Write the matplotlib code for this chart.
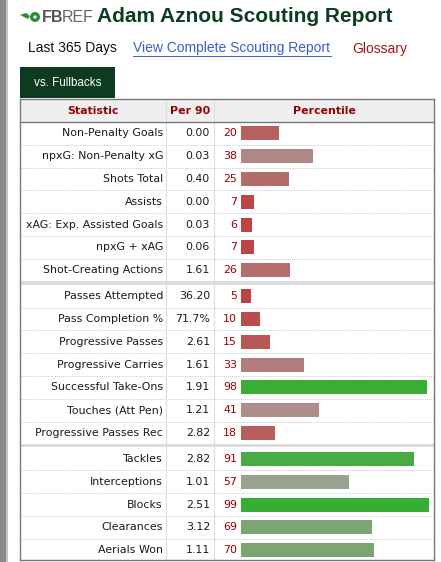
import matplotlib
matplotlib.use("Agg")
import matplotlib.pyplot as plt
from matplotlib.patches import Rectangle, Polygon, Circle
import numpy as np

# ---- data ----
stats_attack = ["Non-Penalty Goals", "npxG: Non-Penalty xG", "Shots Total", "Assists",
                "xAG: Exp. Assisted Goals", "npxG + xAG", "Shot-Creating Actions"]
per90_attack = ["0.00", "0.03", "0.40", "0.00", "0.03", "0.06", "1.61"]
pct_attack = [20, 38, 25, 7, 6, 7, 26]

stats_possession = ["Passes Attempted", "Pass Completion %", "Progressive Passes",
                    "Progressive Carries", "Successful Take-Ons", "Touches (Att Pen)",
                    "Progressive Passes Rec"]
per90_possession = ["36.20", "71.7%", "2.61", "1.61", "1.91", "1.21", "2.82"]
pct_possession = [5, 10, 15, 33, 98, 41, 18]

stats_defense = ["Tackles", "Interceptions", "Blocks", "Clearances", "Aerials Won"]
per90_defense = ["2.82", "1.01", "2.51", "3.12", "1.11"]
pct_defense = [91, 57, 99, 69, 70]

title = "Adam Aznou Scouting Report"
headers = ["Statistic", "Per 90", "Percentile"]

W, H = 441, 562
fig = plt.figure(figsize=(W / 100, H / 100), dpi=100)
fig.patch.set_facecolor("white")
ax = fig.add_axes([0, 0, 1, 1])
ax.set_xlim(0, W)
ax.set_ylim(H, 0)
ax.axis("off")

BODY = "DejaVu Sans"
ARIAL = "Liberation Sans"
DARKRED = "#990000"
TXT = "#1a1a1a"
BORDER = "#7a7a7a"
FS = 7.95


def bar_color(p):
    red = np.array([190, 55, 55])
    gray = np.array([170, 160, 158])
    green = np.array([52, 174, 48])
    if p <= 50:
        t = p / 50.0
        c = red * (1 - t) + gray * t
    else:
        t = (p - 50) / 50.0
        c = gray * (1 - t) + green * t
    return tuple(c / 255.0)


# left gray strip
ax.add_patch(Rectangle((0, 0), 6, H, color="#8a8a8a", lw=0))
ax.add_patch(Rectangle((6, 0), 2, H, color="#c4c4c4", lw=0))

# logo
ax.add_patch(Polygon([[20, 15], [26, 13], [30, 16], [28, 19]], closed=True,
                     color="#2e8b3a", lw=0))
ax.add_patch(Circle((35, 17), 5, color="#2e8b3a", lw=0))
ax.add_patch(Circle((35, 17), 1.6, color="white", lw=0))
ax.text(42, 17.5, "FB", fontsize=11.5, fontweight="bold", color="#555555", family=ARIAL,
        va="center", ha="left")
ax.text(61.5, 17.5, "REF", fontsize=11.5, color="#666666", family=ARIAL, va="center",
        ha="left")
ax.text(97, 17, title, fontsize=15.05, fontweight="bold", color="#0b3d1e", family=ARIAL,
        va="center", ha="left")

# sub links
ax.text(28, 48, "Last 365 Days", fontsize=10.0, color="#111111", family=ARIAL, va="center")
ax.text(133, 48, "View Complete Scouting Report", fontsize=10.0, color="#3a5fcd",
        family=ARIAL, va="center")
ax.plot([133, 331], [55.5, 55.5], color="#3a5fcd", lw=0.7)
ax.text(352, 49, "Glossary", fontsize=10.0, color="#a31515", family=ARIAL, va="center")

# tab
ax.add_patch(Rectangle((20, 67), 95, 31, color="#0d3b1f", lw=0))
ax.text(67.5, 82.5, "vs. Fullbacks", fontsize=8.4, color="white", family=ARIAL,
        va="center", ha="center")

# table geometry
TL, TR = 20, 434
C1, C2 = 166, 214
HEAD_TOP, HEAD_BOT = 98.5, 122
RH = 22.8
GAP = 3.2

ax.add_patch(Rectangle((TL, HEAD_TOP), TR - TL, HEAD_BOT - HEAD_TOP, color="#efefef", lw=0))
for x, lab in zip([93, 190, 324], headers):
    ax.text(x, 111, lab, fontsize=7.9, fontweight="bold", color=DARKRED, family=BODY,
            va="center", ha="center")

groups = [
    (stats_attack, per90_attack, pct_attack),
    (stats_possession, per90_possession, pct_possession),
    (stats_defense, per90_defense, pct_defense),
]

centers, labels, per90s, pcts = [], [], [], []
y = HEAD_BOT
seps = []
for gi, (s, p9, pc) in enumerate(groups):
    if gi > 0:
        seps.append(y)
        y += GAP
    for i in range(len(s)):
        centers.append(y + RH / 2)
        if i < len(s) - 1:
            ax.plot([TL, TR], [y + RH, y + RH], color="#c8c8c8", lw=0.7, ls=(0, (1, 1.2)))
        y += RH
    labels += s
    per90s += p9
    pcts += pc
table_bottom = y - 2

for sy in seps:
    ax.add_patch(Rectangle((TL, sy - 0.3), TR - TL, GAP, color="#dcdcdc", lw=0))

# column dividers
ax.plot([C1, C1], [HEAD_TOP, table_bottom], color="#dddddd", lw=0.8)
ax.plot([C2, C2], [HEAD_TOP, table_bottom], color="#dddddd", lw=0.8)

# borders
ax.plot([TL, TR], [HEAD_TOP, HEAD_TOP], color=BORDER, lw=1.0)
ax.plot([TL, TR], [HEAD_BOT, HEAD_BOT], color=BORDER, lw=1.0)
ax.plot([TL, TL], [HEAD_TOP, table_bottom], color=BORDER, lw=1.0)
ax.plot([TR, TR], [HEAD_TOP, table_bottom], color=BORDER, lw=1.0)
ax.plot([TL, TR], [table_bottom, table_bottom], color=BORDER, lw=1.0)

for cy, lab, v, p in zip(centers, labels, per90s, pcts):
    ax.text(163, cy, lab, fontsize=FS, color=TXT, family=BODY, va="center", ha="right")
    ax.text(210, cy, v, fontsize=FS, color=TXT, family=BODY, va="center", ha="right")
    ax.text(237, cy, str(p), fontsize=FS, color=DARKRED, family=BODY, va="center", ha="right")

# bars via their own axes (percentile scale 0-100)
bx = fig.add_axes([241 / W, 0, 190 / W, 1])
bx.set_xlim(0, 100)
bx.set_ylim(H, 0)
bx.axis("off")
bx.patch.set_alpha(0)
bx.barh(centers, pcts, height=14, color=[bar_color(p) for p in pcts], lw=0)

fig.savefig("out.png", dpi=100, facecolor="white")
